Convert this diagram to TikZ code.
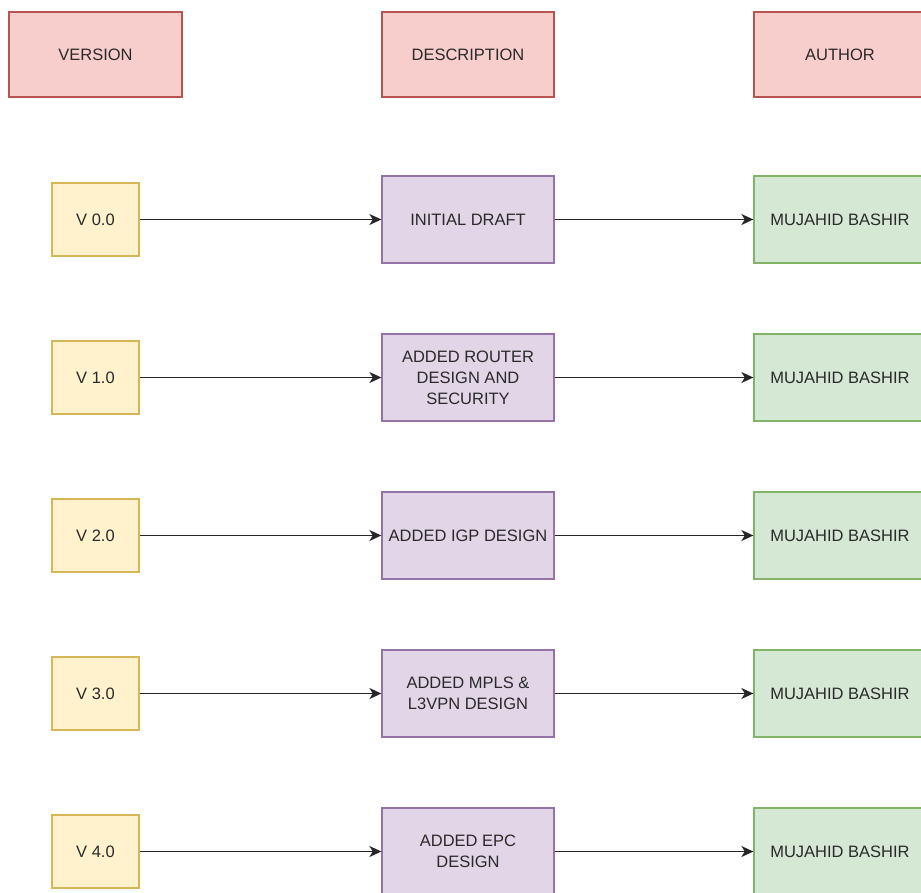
\documentclass[tikz,border=0pt]{standalone}
\usepackage{fontspec}
\setmainfont{Liberation Sans}
\usetikzlibrary{arrows.meta}
\definecolor{redfill}{HTML}{F8CECC}\definecolor{redline}{HTML}{B85450}
\definecolor{purfill}{HTML}{E1D5E7}\definecolor{purline}{HTML}{9673A6}
\definecolor{grnfill}{HTML}{D5E8D4}\definecolor{grnline}{HTML}{82B366}
\definecolor{yelfill}{HTML}{FFF2CC}\definecolor{yelline}{HTML}{D6B656}
\definecolor{txt}{HTML}{2A2A2A}
\tikzset{
  base/.style={rectangle, line width=1.3pt, align=center, inner sep=0pt, text=txt,
    font=\fontsize{16.5}{21}\selectfont},
  header/.style={base, draw=redline, fill=redfill, minimum width=173pt, minimum height=85pt},
  verbox/.style={base, draw=yelline, fill=yelfill, minimum width=87pt, minimum height=73pt},
  descbox/.style={base, draw=purline, fill=purfill, minimum width=172pt, minimum height=87pt},
  authbox/.style={base, draw=grnline, fill=grnfill, minimum width=172pt, minimum height=87pt},
  conn/.style={line width=1.6pt, draw=black!85, -{Stealth[length=12pt,width=11pt,inset=3.5pt]}}
}
\begin{document}
\begin{tikzpicture}[x=1pt,y=-1pt]
\useasboundingbox (0,0) rectangle (921,892);
\fill[white] (0,0) rectangle (921,892);
\node[header] (hv) at (95.5,54.5) {VERSION};
\node[header, minimum width=172pt] (hd) at (468,54.5) {DESCRIPTION};
\node[header, minimum width=172pt] (ha) at (840,54.5) {AUTHOR};
% rows
\node[verbox] (v0) at (95.5,219.5) {V 0.0};
\node[descbox] (d0) at (468,219.5) {INITIAL DRAFT};
\node[authbox] (a0) at (840,219.5) {MUJAHID BASHIR};
\node[verbox] (v1) at (95.5,377.5) {V 1.0};
\node[descbox] (d1) at (468,377.5) {ADDED ROUTER\\DESIGN AND\\SECURITY};
\node[authbox] (a1) at (840,377.5) {MUJAHID BASHIR};
\node[verbox] (v2) at (95.5,535.5) {V 2.0};
\node[descbox] (d2) at (468,535.5) {ADDED IGP DESIGN};
\node[authbox] (a2) at (840,535.5) {MUJAHID BASHIR};
\node[verbox] (v3) at (95.5,693.5) {V 3.0};
\node[descbox] (d3) at (468,693.5) {ADDED MPLS \&\\L3VPN DESIGN};
\node[authbox] (a3) at (840,693.5) {MUJAHID BASHIR};
\node[verbox] (v4) at (95.5,851.5) {V 4.0};
\node[descbox] (d4) at (468,851.5) {ADDED EPC\\DESIGN};
\node[authbox] (a4) at (840,851.5) {MUJAHID BASHIR};
\foreach \i in {0,...,4}{
  \draw[conn] (v\i) -- (d\i);
  \draw[conn] (d\i) -- (a\i);
}
\end{tikzpicture}
\end{document}
